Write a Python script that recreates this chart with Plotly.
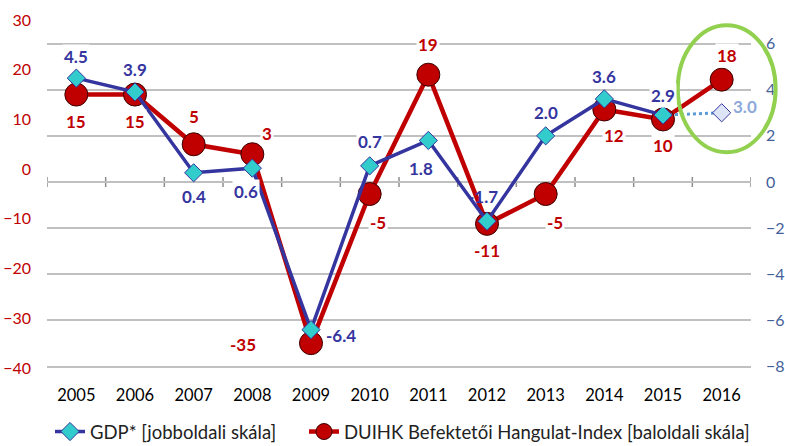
import plotly.graph_objects as go

# Years on the category axis
years = ["2005", "2006", "2007", "2008", "2009", "2010",
         "2011", "2012", "2013", "2014", "2015", "2016"]

# DUIHK investor sentiment index (left scale)
sentiment = [15, 15, 5, 3, -35, -5, 19, -11, -5, 12, 10, 18]

# GDP growth, % (right scale), 2005-2015
gdp = [4.5, 3.9, 0.4, 0.6, -6.4, 0.7, 1.8, -1.7, 2.0, 3.6, 2.9]

# GDP forecast for 2016
gdp_forecast_years = ["2015", "2016"]
gdp_forecast = [2.9, 3.0]

left_ticks = [-40, -30, -20, -10, 0, 10, 20, 30]
right_ticks = [-8, -6, -4, -2, 0, 2, 4, 6]

RED = "#c00000"
BLUE = "#35359f"
CYAN = "#33cccc"
LIGHT_BLUE = "#8eaadb"
FONT = "Lato, Carlito, Calibri, sans-serif"

W, H = 785, 446
TOP, BOTTOM = 20, 368          # plot area, pixels from top
PLOT_H = H - TOP               # paper height (no bottom margin)
PLOT_W = W - 47 - 34

fig = go.Figure()

fig.add_trace(go.Scatter(
    x=gdp_forecast_years, y=gdp_forecast, yaxis="y2",
    mode="lines", line=dict(color="#5b9bd5", width=3, dash="dot"),
    showlegend=False, hoverinfo="skip",
))
fig.add_trace(go.Scatter(
    x=[gdp_forecast_years[-1]], y=[gdp_forecast[-1]], yaxis="y2",
    mode="markers",
    marker=dict(symbol="diamond", size=14, color="#dde4f6",
                line=dict(color=BLUE, width=1)),
    showlegend=False,
))
fig.add_trace(go.Scatter(
    x=years[:len(gdp)], y=gdp, yaxis="y2", name="GDP* [jobboldali skála]",
    mode="lines+markers", legend="legend",
    line=dict(color=BLUE, width=3.5),
    marker=dict(symbol="diamond", size=14, color=CYAN,
                line=dict(color=BLUE, width=1)),
))
fig.add_trace(go.Scatter(
    x=years, y=sentiment, yaxis="y",
    name="DUIHK Befektetői Hangulat-Index [baloldali skála]",
    mode="lines+markers", legend="legend2",
    line=dict(color=RED, width=4.5),
    marker=dict(symbol="circle", size=23, color=RED,
                line=dict(color="#3a0000", width=1)),
))

# Data label offsets (pixels) for each point
red_offsets = [(0, -27), (0, -27), (0, 28), (15, 21), (-68, -1), (8, -28),
               (0, 30), (0, -27), (9, -28), (10, -26), (0, -26), (5, 24)]
blue_offsets = [(0, 22), (0, 23), (0, -24), (-6, -23), (30, -6), (0, 24),
                (-7, -28), (-4, 25), (0, 23), (0, 22), (0, 20)]

annotations = []
for yr, v, (dx, dy) in zip(years, sentiment, red_offsets):
    annotations.append(go.layout.Annotation(
        x=years.index(yr), y=v, xref="x", yref="y", text=f"<b>{v}</b>",
        showarrow=False, xshift=dx, yshift=dy, bgcolor="white",
        font=dict(family=FONT, size=17, color=RED)))
for yr, v, (dx, dy) in zip(years, gdp, blue_offsets):
    # the -1.7 label sits on the line, so it gets no white box
    bg = "rgba(0,0,0,0)" if -3 < v < -1 else "white"
    annotations.append(go.layout.Annotation(
        x=years.index(yr), y=v, xref="x", yref="y2", text=f"<b>{v:.1f}</b>",
        showarrow=False, xshift=dx, yshift=dy, bgcolor=bg,
        font=dict(family=FONT, size=17, color=BLUE)))
annotations.append(go.layout.Annotation(
    x=years.index(gdp_forecast_years[-1]), y=gdp_forecast[-1], xref="x",
    yref="y2", text=f"<b>{gdp_forecast[-1]:.1f}</b>", showarrow=False,
    xshift=23, yshift=6, font=dict(family=FONT, size=17, color=LIGHT_BLUE)))

shapes = []
# Category axis line at the right-scale zero with crossing tick marks
shapes.append(dict(type="line", xref="x", yref="y2", x0=-0.5, x1=11.5, y0=0, y1=0,
                   line=dict(color="#8c8c8c", width=1.5), layer="below"))
for k in range(len(years) + 1):
    shapes.append(dict(type="line", xref="x", yref="y2",
                       ysizemode="pixel", yanchor=0, x0=k - 0.5, x1=k - 0.5,
                       y0=-5, y1=5, line=dict(color="#8c8c8c", width=1.5),
                       layer="below"))
# Highlight around the 2016 values
shapes.append(dict(type="circle", xref="x domain", yref="y domain",
                   x0=0.896, x1=1.035, y0=0.62, y1=0.985,
                   line=dict(color="#92d050", width=4)))

y_domain = [(H - BOTTOM) / PLOT_H, 1.0]
legend_y = (H - 432) / PLOT_H
legend_font = dict(family=FONT, size=18.5, color="#222")

fig.update_layout(
    width=W, height=H,
    margin=dict(l=47, r=34, t=TOP, b=0, autoexpand=False),
    paper_bgcolor="white", plot_bgcolor="white",
    font=dict(family=FONT, size=15, color="black"),
    xaxis=dict(type="category", categoryorder="array", categoryarray=years,
               range=[-0.5, 11.5], showgrid=False, automargin=False,
               showline=False, ticks="", zeroline=False,
               tickfont=dict(family=FONT, size=16.5, color="black"),
               ticklabelstandoff=15),
    yaxis=dict(range=[-40, 30], tickvals=left_ticks, showgrid=False,
               domain=y_domain, automargin=False,
               zeroline=False, showline=False,
               tickfont=dict(family=FONT, size=16, color=RED),
               ticklabelstandoff=15),
    yaxis2=dict(range=[-8.06, 7.02], tickvals=right_ticks, overlaying="y",
                side="right", showgrid=True, gridcolor="#c0c0c0", gridwidth=1.5,
                automargin=False,
                zeroline=False, showline=False,
                tickfont=dict(family=FONT, size=16, color="#44619a"),
                ticklabelstandoff=14),
    legend=dict(orientation="h", x=(50 - 47) / PLOT_W, xanchor="left",
                y=legend_y, yanchor="middle", font=legend_font, itemwidth=30),
    legend2=dict(orientation="h", x=(304 - 47) / PLOT_W, xanchor="left",
                 y=legend_y, yanchor="middle", font=legend_font, itemwidth=30),
    annotations=annotations,
    shapes=shapes,
    showlegend=True,
)

fig.write_html("out.html")
